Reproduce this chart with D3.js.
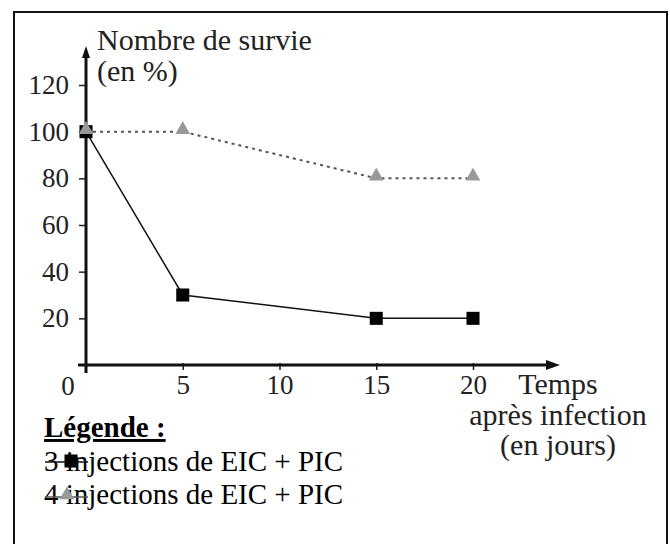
<html>
<head>
  <style>
    body { margin: 0; background: #fff; }
  </style>
</head>
<body>
<script src="https://d3js.org/d3.v7.min.js"></script>
<script>
  // jours apres infection
  var days = [0, 5, 15, 20];
  // survie (%) pour 3 injections et 4 injections
  var survie3 = [100, 30, 20, 20];
  var survie4 = [100, 100, 80, 80];
  // graduations
  var yTicks = [20, 40, 60, 80, 100, 120];
  var xTicks = [5, 10, 15, 20];
  var legendLabels = ["3 injections de EIC + PIC", "4 injections de EIC + PIC"];

  var width = 670;
  var height = 544;
  var font = "Liberation Serif";

  var svg = d3.select('body')
    .append('svg')
    .attr('width', width)
    .attr('height', height);

  // cadre (le bas sort de l'image)
  svg.append('rect')
    .attr('x', 14)
    .attr('y', 12)
    .attr('width', 653)
    .attr('height', 545)
    .attr('fill', 'none')
    .attr('stroke', '#111')
    .attr('stroke-width', 2);

  var x = d3.scaleLinear().domain([0, 20]).range([86, 473]);
  var y = d3.scaleLinear().domain([0, 120]).range([365, 85]);

  // axe des y
  var yAxis = svg.append('g')
    .attr('transform', 'translate(' + x(0) + ',0)')
    .call(d3.axisLeft(y).tickValues(yTicks).tickSize(7).tickPadding(10));
  yAxis.select('.domain').remove();
  yAxis.selectAll('line').attr('stroke', '#222').attr('stroke-width', 1.5);
  yAxis.selectAll('text')
    .style('font-family', font)
    .style('font-size', '27px')
    .attr('fill', '#222');

  // axe des x
  var xAxis = svg.append('g')
    .attr('transform', 'translate(0,' + y(0) + ')')
    .call(d3.axisBottom(x).tickValues(xTicks).tickSize(5));
  xAxis.select('.domain').remove();
  xAxis.selectAll('line').attr('stroke', '#222').attr('stroke-width', 1.5).attr('y1', -2);
  xAxis.selectAll('text')
    .attr('y', 20)
    .attr('dy', '0.35em')
    .style('font-family', font)
    .style('font-size', '27px')
    .attr('fill', '#222');

  // lignes des axes avec fleches
  svg.append('line')
    .attr('x1', x(0)).attr('x2', x(0))
    .attr('y1', y(0) + 8).attr('y2', 54)
    .attr('stroke', '#111').attr('stroke-width', 3);
  svg.append('path')
    .attr('d', 'M' + x(0) + ',46 L' + (x(0) - 4) + ',58 L' + (x(0) + 4) + ',58 Z')
    .attr('fill', '#111');

  svg.append('line')
    .attr('x1', x(0) - 8).attr('x2', 550)
    .attr('y1', y(0)).attr('y2', y(0))
    .attr('stroke', '#111').attr('stroke-width', 3);
  svg.append('path')
    .attr('d', 'M560,' + y(0) + ' L546,' + (y(0) - 5) + ' L546,' + (y(0) + 5) + ' Z')
    .attr('fill', '#111');

  // origine
  svg.append('text')
    .attr('x', 68).attr('y', 386).attr('dy', '0.35em')
    .attr('text-anchor', 'middle')
    .style('font-family', font).style('font-size', '27px').attr('fill', '#222')
    .text('0');

  // titre axe y
  svg.append('text')
    .attr('x', 97).attr('y', 50)
    .style('font-family', font).style('font-size', '30px').attr('fill', '#222')
    .text('Nombre de survie');
  svg.append('text')
    .attr('x', 97).attr('y', 81)
    .style('font-family', font).style('font-size', '30px').attr('fill', '#222')
    .text('(en %)');

  // titre axe x
  var xTitle = ['Temps', 'après infection', '(en jours)'];
  svg.selectAll('.xtitle')
    .data(xTitle)
    .enter()
    .append('text')
    .attr('x', 558)
    .attr('y', function(d, i) { return 394 + i * 30.5; })
    .attr('text-anchor', 'middle')
    .style('font-family', font).style('font-size', '30px').attr('fill', '#222')
    .text(function(d) { return d; });

  // series
  var pts3 = days.map(function(d, i) { return [x(d), y(survie3[i])]; });
  var pts4 = days.map(function(d, i) { return [x(d), y(survie4[i])]; });

  svg.append('path')
    .attr('d', d3.line()(pts4))
    .attr('fill', 'none')
    .attr('stroke', '#555')
    .attr('stroke-width', 2)
    .attr('stroke-dasharray', '3,4');

  svg.append('path')
    .attr('d', d3.line()(pts3))
    .attr('fill', 'none')
    .attr('stroke', '#111')
    .attr('stroke-width', 1.5);

  var tri = d3.symbol().type(d3.symbolTriangle).size(95);
  var sq = d3.symbol().type(d3.symbolSquare).size(170);

  // carres puis triangles par-dessus
  svg.selectAll('.sq')
    .data(pts3)
    .enter()
    .append('path')
    .attr('d', sq)
    .attr('transform', function(d) { return 'translate(' + d[0] + ',' + d[1] + ')'; })
    .attr('fill', '#000');

  svg.selectAll('.tri')
    .data(pts4)
    .enter()
    .append('path')
    .attr('d', tri)
    .attr('transform', function(d) { return 'translate(' + d[0] + ',' + (d[1] - 2) + ')'; })
    .attr('fill', '#999');

  // legende
  svg.append('text')
    .attr('x', 44).attr('y', 437)
    .style('font-family', font).style('font-size', '29px').style('font-weight', 'bold')
    .style('text-decoration', 'underline')
    .text('Légende :');

  svg.selectAll('.leg')
    .data(legendLabels)
    .enter()
    .append('text')
    .attr('x', 44)
    .attr('y', function(d, i) { return 471 + i * 33; })
    .style('font-family', font).style('font-size', '29px').attr('fill', '#000')
    .text(function(d) { return d; });

  svg.append('line')
    .attr('x1', 45).attr('x2', 88).attr('y1', 462).attr('y2', 462)
    .attr('stroke', '#111').attr('stroke-width', 1.5);
  svg.append('path')
    .attr('d', sq)
    .attr('transform', 'translate(71,461)')
    .attr('fill', '#000');

  svg.append('line')
    .attr('x1', 45).attr('x2', 88).attr('y1', 497).attr('y2', 497)
    .attr('stroke', '#555').attr('stroke-width', 1.5);
  svg.append('path')
    .attr('d', tri)
    .attr('transform', 'translate(67,495)')
    .attr('fill', '#999');
</script>
</body>
</html>
